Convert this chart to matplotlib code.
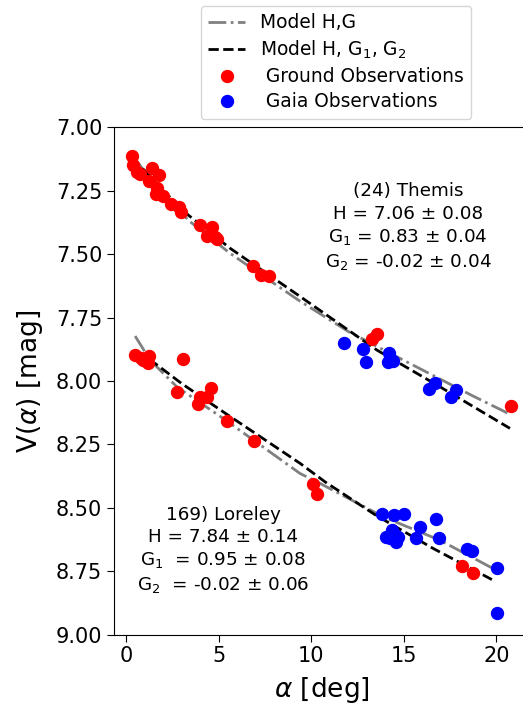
import matplotlib
matplotlib.use("Agg")
import matplotlib.pyplot as plt
from matplotlib.lines import Line2D

# ---- Themis (24) ----
themis_ground_alpha = [0.34, 0.40, 0.58, 0.76, 1.42, 1.24, 1.80, 1.69, 1.60, 2.02, 2.41, 2.86, 2.95,
                       4.00, 4.63, 4.39, 4.93, 4.81, 6.87, 7.27, 7.74, 13.27, 13.57, 20.79]
themis_ground_V = [7.112, 7.149, 7.175, 7.184, 7.159, 7.211, 7.188, 7.241, 7.264, 7.270, 7.304, 7.313, 7.333,
                   7.385, 7.392, 7.429, 7.442, 7.434, 7.547, 7.583, 7.585, 7.836, 7.815, 8.098]
themis_gaia_alpha = [11.79, 12.78, 12.94, 14.22, 14.17, 14.43, 16.68, 16.36, 17.80, 17.53]
themis_gaia_V = [7.850, 7.875, 7.926, 7.888, 7.925, 7.922, 8.007, 8.032, 8.036, 8.065]

themis_hg_alpha = [0.3, 0.67, 2.0, 3.46, 5.62, 9.3, 12.0, 14.79, 18.75, 20.64]
themis_hg_V = [7.115, 7.142, 7.27, 7.372, 7.497, 7.681, 7.805, 7.911, 8.060, 8.128]
themis_hgg_alpha = [0.3, 1.0, 2.0, 3.36, 5.62, 9.3, 13.54, 16.95, 20.73]
themis_hgg_V = [7.125, 7.17, 7.25, 7.346, 7.477, 7.662, 7.878, 8.023, 8.187]

# ---- Loreley (169) ----
loreley_ground_alpha = [0.49, 0.79, 0.94, 1.26, 1.20, 3.09, 2.74, 4.00, 3.91, 4.35, 4.57, 5.44, 6.93,
                        10.08, 10.33, 18.16, 18.76]
loreley_ground_V = [7.899, 7.911, 7.918, 7.902, 7.929, 7.914, 8.043, 8.063, 8.092, 8.063, 8.026, 8.157, 8.236,
                    8.407, 8.444, 8.731, 8.759]
loreley_gaia_alpha = [13.81, 14.49, 14.99, 14.04, 14.35, 14.53, 14.25, 14.58, 14.70, 15.88, 15.64,
                      16.74, 16.92, 18.40, 18.70, 20.01, 20.01]
loreley_gaia_V = [8.523, 8.527, 8.523, 8.615, 8.589, 8.608, 8.621, 8.635, 8.617, 8.576, 8.621,
                  8.543, 8.621, 8.661, 8.670, 8.736, 8.915]

loreley_hg_alpha = [0.49, 1.30, 2.74, 5.25, 9.40, 10.48, 13.9, 16.95, 19.83]
loreley_hg_V = [7.823, 7.918, 8.023, 8.148, 8.365, 8.404, 8.536, 8.628, 8.740]
loreley_hgg_alpha = [0.5, 1.57, 3.0, 5.25, 9.40, 10.75, 13.5, 16.6, 19.83]
loreley_hgg_V = [7.895, 7.931, 8.01, 8.122, 8.325, 8.398, 8.53, 8.661, 8.786]

legend_labels = ["Model H,G", "Model H, G$_1$, G$_2$", " Ground Observations", " Gaia Observations"]
themis_text = "(24) Themis\nH = 7.06 ± 0.08\nG$_1$ = 0.83 ± 0.04\nG$_2$ = -0.02 ± 0.04"
loreley_text = "169) Loreley\nH = 7.84 ± 0.14\nG$_1$  = 0.95 ± 0.08\nG$_2$  = -0.02 ± 0.06"

fig = plt.figure(figsize=(5.23, 7.09), dpi=100)
x0, x1 = -0.65, 21.8
ax = fig.add_axes([114/523, (709-634.6)/709, (x1-x0)*18.52/523, (634.6-127.3)/709])

ms = 8.6
for a, v in [(themis_hg_alpha, themis_hg_V), (loreley_hg_alpha, loreley_hg_V)]:
    ax.plot(a, v, color='gray', ls='-.', lw=2, zorder=2)
for a, v in [(themis_hgg_alpha, themis_hgg_V), (loreley_hgg_alpha, loreley_hgg_V)]:
    ax.plot(a, v, color='black', ls='--', lw=2, zorder=2)
ax.plot(themis_ground_alpha, themis_ground_V, 'o', color='red', ms=ms, ls='none', zorder=3)
ax.plot(loreley_ground_alpha, loreley_ground_V, 'o', color='red', ms=ms, ls='none', zorder=3)
ax.plot(themis_gaia_alpha, themis_gaia_V, 'o', color='blue', ms=ms, ls='none', zorder=3)
ax.plot(loreley_gaia_alpha, loreley_gaia_V, 'o', color='blue', ms=ms, ls='none', zorder=3)

ax.set_xlim(x0, x1)
ax.set_ylim(9.0, 7.0)
ax.set_yticks([7.0, 7.25, 7.5, 7.75, 8.0, 8.25, 8.5, 8.75, 9.0])
ax.set_yticklabels(["7.00", "7.25", "7.50", "7.75", "8.00", "8.25", "8.50", "8.75", "9.00"])
ax.set_xticks([0, 5, 10, 15, 20])
ax.tick_params(labelsize=15, length=5)
ax.set_xlabel(r"$\alpha$ [deg]", fontsize=19, labelpad=6)
ax.set_ylabel(r"V($\alpha$) [mag]", fontsize=19, labelpad=8)

ax.text(15.23, 7.393, themis_text, ha='center', va='center', fontsize=13.2, linespacing=1.3)
ax.text(5.24, 8.667, loreley_text, ha='center', va='center', fontsize=13.2, linespacing=1.3)

handles = [Line2D([], [], color='gray', ls='-.', lw=2),
           Line2D([], [], color='black', ls='--', lw=2),
           Line2D([], [], color='red', marker='o', ls='none', ms=ms),
           Line2D([], [], color='blue', marker='o', ls='none', ms=ms)]
fig.legend(handles, legend_labels, loc='upper center', bbox_to_anchor=(336/523, 1-6/709),
           borderaxespad=0, fontsize=13.4, frameon=True, labelspacing=0.33)

fig.savefig("out.png", dpi=100)
